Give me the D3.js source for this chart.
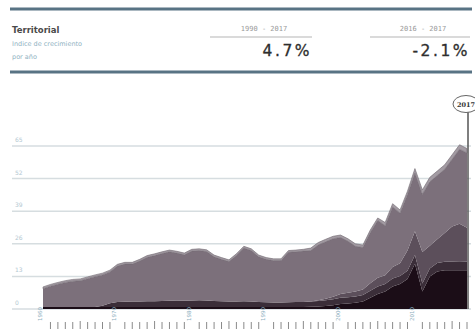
<!DOCTYPE html>
<html><head><meta charset="utf-8">
<script src="https://cdn.jsdelivr.net/npm/d3@7/dist/d3.min.js"></script>
<style>html,body{margin:0;padding:0;background:#fff;overflow:hidden}</style>
</head><body><svg id="c" width="475" height="333"></svg>
<script>
const years = d3.range(1960, 2018);
const yTicks = [0, 13, 26, 39, 52, 65];
const yTickLabels = ["0", "13", "26", "39", "52", "65"];
const decadeLabels = [1960, 1970, 1980, 1990, 2000, 2010];
const seriesKeys = ["black", "dark", "mid", "main", "light"];
const black = [0.8,0.8,0.8,0.8,0.8,0.8,0.8,0.8,0.8,0.8, 0.8,0.8,0.8,0.8,0.8,0.8,0.8,0.8,0.8,0.8, 0.8,0.8,0.8,0.8,0.8,0.8,0.8,0.8,0.8,0.8, 0.8,0.8,0.8,0.8,0.8,0.8,0.9,1.0,1.2,1.5, 2.0,2.2,2.5,3.0,4.5,6.0,7.0,9.0,10.0,12.0, 18.0,7.0,13.0,15.0,15.5,15.5,15.5,15.5];
const dark = [0,0,0,0,0,0,0,0,0.5,1.5, 2.0,2.1,2.2,2.2,2.3,2.3,2.4,2.5,2.6,2.5, 2.6,2.7,2.6,2.4,2.3,2.2,2.2,2.3,2.2,2.0, 1.9,1.8,1.8,1.9,2.0,2.0,2.1,2.2,2.3,2.4, 2.5,2.5,2.5,2.6,2.8,3.0,3.0,3.2,3.2,3.3, 3.5,3.2,3.2,3.3,3.3,3.4,3.5,3.4];
const mid = [0,0,0,0,0,0,0,0,0,0, 0,0,0,0,0,0,0,0,0,0, 0,0,0,0,0,0,0,0,0,0, 0,0,0,0,0,0,0,0.3,0.6,1.0, 1.5,1.8,2.0,2.2,3.0,3.5,3.5,4.5,5.0,8.0, 9.5,12.5,9.0,9.5,11.5,14.0,15.0,13.5];
const main = [7.3,8.3,9.1,9.8,10.3,10.5,11.3,12.1,12.3,12.5, 14.3,15.0,14.9,16.1,17.5,18.2,18.9,19.5,18.9,18.3, 19.7,19.8,19.5,17.6,16.7,15.9,18.3,21.2,20.3,18.0, 17.1,16.7,16.7,19.9,20.0,20.3,20.3,22.0,22.7,23.1, 22.5,20.5,18.0,16.7,20.2,22.8,19.7,24.0,20.0,22.4, 23.2,23.0,25.5,25.4,25.4,26.8,29.7,29.8];
const light = [0.7,0.7,0.7,0.7,0.7,0.7,0.7,0.7,0.7,0.7, 0.7,0.7,0.7,0.7,0.7,0.7,0.7,0.7,0.7,0.7, 0.7,0.7,0.7,0.7,0.7,0.7,0.7,0.7,0.7,0.7, 0.7,0.7,0.7,0.7,0.7,0.7,1.0,1.0,1.0,1.0, 1.0,1.0,1.0,1.0,1.0,1.0,1.3,1.3,1.3,1.3, 1.8,1.8,1.8,1.8,1.8,1.8,1.8,1.8];
const colors = {black:"#1b0d17", dark:"#3b2e39", mid:"#5c4f5b", main:"#7c707b", light:"#a39ba3"};

const rows = years.map((y,i)=>({year:y, black:black[i], dark:dark[i], mid:mid[i], main:main[i], light:light[i]}));
const svg = d3.select("#c");
const x = d3.scaleLinear().domain([1960, 2017]).range([43, 467]);
const y = d3.scaleLinear().domain([0, 65]).range([309, 146]);

// header
const hdr = svg.append("g");
hdr.append("line").attr("x1",10).attr("x2",472).attr("y1",9).attr("y2",9).attr("stroke","#587384").attr("stroke-width",3);
hdr.append("line").attr("x1",10).attr("x2",472).attr("y1",72).attr("y2",72).attr("stroke","#587384").attr("stroke-width",3);
hdr.append("text").attr("x",12).attr("y",33).text("Territorial").attr("font-family","DejaVu Sans").attr("font-size",8.5).attr("font-weight","bold").attr("fill","#4a4a4a");
hdr.append("text").attr("x",12).attr("y",46).text("Indice de crecimiento").attr("font-family","DejaVu Sans").attr("font-size",6.5).attr("fill","#8fb2c2");
hdr.append("text").attr("x",12).attr("y",59).text("por año").attr("font-family","DejaVu Sans").attr("font-size",6.5).attr("fill","#8fb2c2");
const periods = [{lbl:"1990 - 2017", val:"4.7%", x1:210, x2:312}, {lbl:"2016 - 2017", val:"-2.1%", x1:370, x2:470}];
periods.forEach(p=>{
  hdr.append("text").attr("x",(p.x1+p.x2)/2+3).attr("y",31).attr("text-anchor","middle").text(p.lbl).attr("font-family","DejaVu Sans Mono").attr("font-size",7).attr("fill","#9a9a9a");
  hdr.append("line").attr("x1",p.x1).attr("x2",p.x2).attr("y1",37).attr("y2",37).attr("stroke","#b5b5b5").attr("stroke-width",1);
  hdr.append("text").attr("x",p.x2).attr("y",56).attr("text-anchor","end").text(p.val).attr("font-family","DejaVu Sans").attr("font-size",15.5).attr("letter-spacing",2.5).attr("fill","#2e2e2e").attr("stroke","#2e2e2e").attr("stroke-width",0.3);
});

// grid
const grid = svg.append("g");
yTicks.forEach((t,i)=>{
  grid.append("line").attr("x1",12).attr("x2",471).attr("y1",y(t)).attr("y2",y(t)).attr("stroke","#d6dde0").attr("stroke-width",1.5);
  grid.append("text").attr("x",15).attr("y",y(t)-4).text(yTickLabels[i]).attr("font-family","DejaVu Sans").attr("font-size",6).attr("fill","#b3c8d2");
});

// areas
const stack = d3.stack().keys(seriesKeys)(rows);
const area = d3.area().x(d=>x(d.data.year)).y0(d=>y(d[0])).y1(d=>y(d[1]));
svg.append("g").selectAll("path").data(stack).join("path")
  .attr("d", area).attr("fill", d=>colors[d.key])
  .attr("stroke", d=>d.key==="light" ? "#6f666f" : "none").attr("stroke-width",0.6);

// x axis ticks
const ax = svg.append("g");
years.forEach(yr=>{
  if (decadeLabels.includes(yr)) return;
  const big = yr % 5 === 0;
  ax.append("line").attr("x1",x(yr)).attr("x2",x(yr)).attr("y1",big?321:322).attr("y2",329).attr("stroke","#8a8a8a").attr("stroke-width",1);
});
decadeLabels.forEach(yr=>{
  ax.append("text").attr("transform",`translate(${x(yr)-1},321) rotate(-90)`).text(yr).attr("font-family","DejaVu Sans").attr("font-size",5.5).attr("fill","#8fb0c0");
});

// 2017 marker
const mk = svg.append("g");
mk.append("line").attr("x1",x(2017)+1).attr("x2",x(2017)+1).attr("y1",112).attr("y2",309).attr("stroke","#555").attr("stroke-width",1.5);
mk.append("ellipse").attr("cx",x(2017)-1).attr("cy",104).attr("rx",13).attr("ry",8.5).attr("fill","#fff").attr("stroke","#666").attr("stroke-width",1);
mk.append("text").attr("x",x(2017)-1).attr("y",106.5).attr("text-anchor","middle").text("2017").attr("font-family","DejaVu Serif").attr("font-weight","bold").attr("font-size",6.5).attr("fill","#333");
</script></body></html>
